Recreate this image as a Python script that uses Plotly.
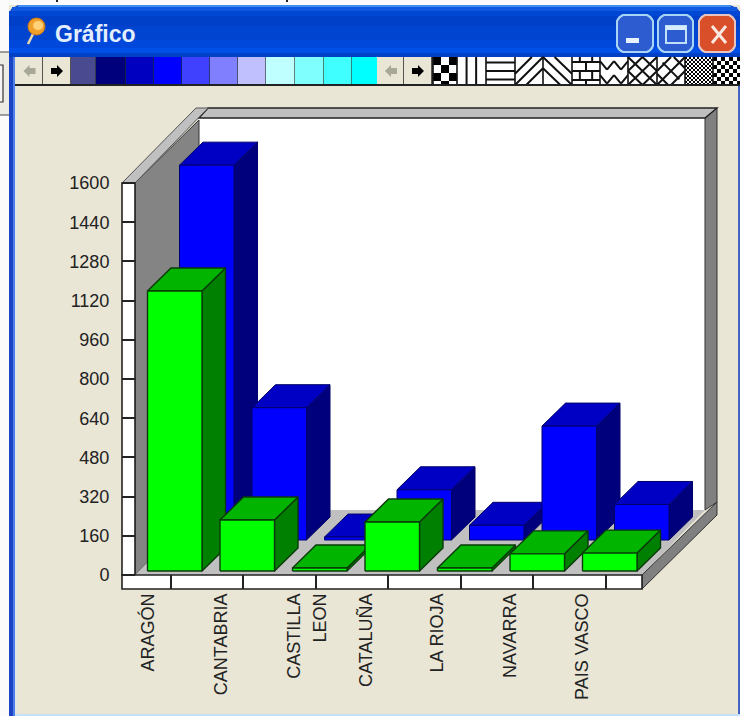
import plotly.graph_objects as go

# Series values per region
categories = ["ARAGÓN", "CANTABRIA", "CASTILLA LEON", "CATALUÑA", "LA RIOJA", "NAVARRA", "PAIS VASCO"]
blue_values = [1530, 540, 12, 205, 60, 465, 145]
green_values = [1143, 208, 12, 200, 12, 70, 73]

# Axis labels
value_ticks = [0, 160, 320, 480, 640, 800, 960, 1120, 1280, 1440, 1600]
tick_labels = ["ARAGÓN", "CANTABRIA", "CASTILLA", "LEON", "CATALUÑA", "LA RIOJA", "NAVARRA", "PAIS VASCO"]
tick_slots = [0.01, 1.01, 2.02, 2.38, 3.02, 4, 5, 6]
divider_slots = [0.324, 1.324, 2.324, 3.324, 4.324, 5.324, 6.324]

# Palette strips of the toolbar
swatch_colors = ["#4a4a90", "#00007c", "#0000c0", "#0000ff", "#4040ff", "#8080ff", "#c0c0ff",
                 "#c0ffff", "#80ffff", "#40ffff", "#00ffff"]
swatch_edges = [71, 96, 126, 154, 182, 210, 238, 266, 295, 324, 352, 377]

W, H = 740, 716
SLOT_PX = 72.5          # pixels per category slot
VALUE_PX = 0.245        # pixels per value unit
SLOT_ORIGIN = 147.5     # pixel column of slot 0
VALUE_ORIGIN = 575      # pixel row of value 0
BAR_W = 54.5 / SLOT_PX
DEPTH_X = 23.5 / SLOT_PX
DEPTH_Y = 23 / VALUE_PX


def px(x):
    return x / W


def py(y):
    return 1 - y / H


def poly(points):
    return "M" + " L".join(f"{px(x):.5f},{py(y):.5f}" for x, y in points) + " Z"


shapes = []


def add_poly(points, fill, line=None, width=1.5):
    shapes.append(dict(type="path", xref="paper", yref="paper", path=poly(points), fillcolor=fill,
                       line=dict(color=line or fill, width=width if line else 0), layer="below"))


def add_rect(x0, y0, x1, y1, fill, line=None, width=1.5):
    add_poly([(x0, y0), (x1, y0), (x1, y1), (x0, y1)], fill, line, width)


def add_segments(segments, color="#111111", width=2):
    path = " ".join(f"M{px(a):.5f},{py(b):.5f} L{px(c):.5f},{py(d):.5f}" for a, b, c, d in segments)
    shapes.append(dict(type="path", xref="paper", yref="paper", path=path,
                       line=dict(color=color, width=width), layer="below"))


def rounded(x0, y0, x1, y1, r, fill, line=None, width=2):
    k = r * 0.3
    path = (f"M{px(x0 + r)},{py(y0)} L{px(x1 - r)},{py(y0)} "
            f"Q{px(x1 - k)},{py(y0 + k)} {px(x1)},{py(y0 + r)} L{px(x1)},{py(y1 - r)} "
            f"Q{px(x1 - k)},{py(y1 - k)} {px(x1 - r)},{py(y1)} L{px(x0 + r)},{py(y1)} "
            f"Q{px(x0 + k)},{py(y1 - k)} {px(x0)},{py(y1 - r)} L{px(x0)},{py(y0 + r)} "
            f"Q{px(x0 + k)},{py(y0 + k)} {px(x0 + r)},{py(y0)} Z")
    shapes.append(dict(type="path", xref="paper", yref="paper", path=path, fillcolor=fill,
                       line=dict(color=line or fill, width=width if line else 0), layer="below"))


# Desktop behind the window
add_rect(0, 0, 9, H, "#fbfbfb")
add_rect(0, 52, 9, 115, "#ecebe4")
add_segments([(0, 52, 9, 52), (0, 115, 9, 115)], "#444444", 1.2)
add_rect(-2, 65, 3, 102, "#f4f4f4", "#333333", 1.2)
add_segments([(57, 0, 57, 2), (287, 0, 287, 2)], "#222222", 2)
add_rect(0, 0, W, 5, "#fbfbfb")
add_segments([(57, 0, 57, 2), (287, 0, 287, 2)], "#222222", 2)

# Window frame and client area
add_poly([(9, 15), (11, 9), (18, 5), (730, 5), (737, 8), (740, 12), (740, H), (9, H)], "#1a44c4")
add_rect(15, 57, 738, 714, "#e9e6d6")
add_rect(15, 57, 17, 714, "#dfe6e6")
add_rect(15, 714, 740, H, "#c6dff8")
add_rect(738, 57, 740, 714, "#4464c4")
add_rect(13, 57, 15, 716, "#4f80e8")

# Title bar shading
title_bands = [(5, 7, "#3f8ef0"), (7, 11, "#0f5ae0"), (11, 16, "#0048d4"), (16, 26, "#0040c8"),
               (26, 40, "#0044d0"), (40, 48, "#0048dc"), (48, 53, "#0050e8"), (53, 57, "#0040c4")]
for y0, y1, c in title_bands:
    inset = 9 if y0 < 7 else 3 if y0 < 11 else 0
    add_rect(9 + inset, y0, 740 - inset, y1, c)

# Caption icon
add_segments([(33, 34, 28, 44)], "#e8d8b0", 2.5)
shapes.append(dict(type="circle", xref="paper", yref="paper", x0=px(28), x1=px(45), y0=py(35), y1=py(18),
                   fillcolor="#f0a028", line=dict(color="#c87818", width=1), layer="below"))
shapes.append(dict(type="circle", xref="paper", yref="paper", x0=px(33), x1=px(43), y0=py(30), y1=py(21),
                   fillcolor="#ffd27a", line=dict(width=0), layer="below"))

# Caption buttons
rounded(617, 15, 653, 52, 6, "#2c5cd0", "#a8d4f6", 2)
add_rect(626, 38, 639, 43, "#e8f2ff")
rounded(658, 15, 693, 52, 6, "#2c5cd0", "#a8d4f6", 2)
add_rect(666, 26, 686, 43, "#2c5cd0", "#c0e0fa", 2)
add_rect(666, 26, 686, 30, "#d8ecff")
rounded(699, 15, 735, 52, 6, "#d94f2a", "#e8c4c0", 2)
add_segments([(712, 26, 726, 43), (726, 26, 712, 43)], "#fbe8e0", 3)

# Toolbar strip
add_rect(15, 57, 740, 85, "#e9e6d6")


def arrow_cell(x0, x1):
    add_rect(x0, 57, x1, 85, "#e9e6d6")
    add_segments([(x1, 57, x1, 85)], "#222222", 1.5)
    return (x0 + x1) / 2


# Left/right arrow pairs of the palette and pattern groups
for left, right, end in [(16, 43, 71), (378, 404, 432)]:
    mid = arrow_cell(left, right)
    add_poly([(mid - 6, 71), (mid, 65), (mid, 68), (mid + 6, 68), (mid + 6, 74), (mid, 74), (mid, 77)], "#a8a898")
    mid = arrow_cell(right, end)
    add_poly([(mid + 6, 71), (mid, 65), (mid, 68), (mid - 6, 68), (mid - 6, 74), (mid, 74), (mid, 77)], "#000000")

for c, x0, x1 in zip(swatch_colors, swatch_edges[:-1], swatch_edges[1:]):
    add_rect(x0, 57, x1, 85, c)
    if x1 != swatch_edges[-1]:
        add_segments([(x1, 57, x1, 85)], "#223322", 1.2)


def checker(x0, x1, size):
    add_rect(x0, 57, x1, 85, "#ffffff")
    path = []
    row = 0
    y = 57
    while y < 85:
        x = x0 + (size if row % 2 else 0)
        while x < x1:
            x2, y2 = min(x + size, x1), min(y + size, 85)
            path.append(poly([(x, y), (x2, y), (x2, y2), (x, y2)]))
            x += 2 * size
        y += size
        row += 1
    shapes.append(dict(type="path", xref="paper", yref="paper", path=" ".join(path), fillcolor="#000000",
                       line=dict(width=0), layer="below"))


def hatch(x0, x1, unit_segments):
    add_rect(x0, 57, x1, 85, "#ffffff")
    w = x1 - x0
    add_segments([(x0 + a * w, 57 + b * 28, x0 + c * w, 57 + d * 28) for a, b, c, d in unit_segments])


checker(433, 457, 8)
hatch(457, 486, [(0.33, 0, 0.33, 1), (0.66, 0, 0.66, 1)])
hatch(486, 515, [(0, 0.2, 1, 0.2), (0, 0.5, 1, 0.5), (0, 0.8, 1, 0.8)])
hatch(515, 543, [(0, 0.6, 0.6, 0), (0, 1, 1, 0), (0.4, 1, 1, 0.4)])
hatch(543, 572, [(0, 0, 1, 1), (0.4, 0, 1, 0.6), (0, 0.4, 0.6, 1)])
hatch(572, 600, [(0, 0.18, 1, 0.18), (0, 0.5, 1, 0.5), (0, 0.82, 1, 0.82), (0.28, 0, 0.28, 0.18),
                 (0.72, 0, 0.72, 0.18), (0.5, 0.18, 0.5, 0.5), (0.28, 0.5, 0.28, 0.82), (0.72, 0.5, 0.72, 0.82),
                 (0.5, 0.82, 0.5, 1)])
hatch(600, 628, [(0, 0.15, 0.25, 0.45), (0.25, 0.45, 0.5, 0.15), (0.5, 0.15, 0.75, 0.45), (0.75, 0.45, 1, 0.15),
                 (0, 0.65, 0.25, 0.95), (0.25, 0.95, 0.5, 0.65), (0.5, 0.65, 0.75, 0.95), (0.75, 0.95, 1, 0.65)])
hatch(628, 657, [(0, 0, 1, 1), (0, 1, 1, 0), (0, 0.5, 0.5, 0), (0.5, 1, 1, 0.5), (0, 0.5, 0.5, 1), (0.5, 0, 1, 0.5)])
hatch(657, 685, [(0, 0.5, 0.5, 0), (0, 1, 1, 0), (0.5, 1, 1, 0.5), (0.2, 0.2, 0.8, 0.8), (0, 0.6, 0.4, 1), (0.6, 0, 1, 0.4)])
checker(685, 713, 2)
checker(713, 740, 4)
add_segments([(x, 57, x, 85) for x in (433, 457, 486, 515, 543, 572, 600, 628, 657, 685, 713)], "#111111", 1.6)
add_segments([(15, 85, 740, 85)], "#222222", 2)

# Chart box: back wall, left wall, floor and rims
add_rect(199, 118, 705, 510, "#ffffff")
add_poly([(135, 183), (199, 120), (199, 510), (135, 575)], "#848484", "#333333", 1)
add_poly([(135, 575), (199, 510), (705, 510), (642, 575)], "#c0c0c0")
add_poly([(705, 118), (717, 108), (717, 502), (705, 510)], "#808080", "#333333", 1)
add_poly([(208, 108), (717, 108), (705, 118), (199, 118)], "#c0c0c0", "#222222", 1.4)
add_poly([(122, 183), (196, 108), (208, 108), (135, 183)], "#c0c0c0", "#555555", 1)
add_poly([(642, 575), (717, 502), (717, 515), (642, 589)], "#808080", "#333333", 1)
add_rect(122, 183, 135, 575, "#ffffff", "#222222", 1.6)
add_rect(122, 575, 642, 589, "#ffffff", "#222222", 1.6)

fig = go.Figure()


def add_face(xs, ys, fill, line, width):
    fig.add_trace(go.Scatter(x=xs + xs[:1], y=ys + ys[:1], mode="lines", fill="toself", fillcolor=fill,
                             line=dict(color=line, width=width), hoverinfo="skip", showlegend=False))


def add_bars(values, shift_x, shift_y, front, top, side, line, width):
    for slot, value in enumerate(values):
        xl = slot + shift_x / SLOT_PX
        xr = xl + BAR_W
        yb = shift_y / VALUE_PX
        yt = value + yb
        add_face([xr, xr + DEPTH_X, xr + DEPTH_X, xr], [yb, yb + DEPTH_Y, yt + DEPTH_Y, yt], side, line, width)
        add_face([xl, xr, xr + DEPTH_X, xl + DEPTH_X], [yt, yt, yt + DEPTH_Y, yt + DEPTH_Y], top, line, width)
        add_face([xl, xr, xr, xl], [yb, yb, yt, yt], front, line, width)


add_bars(blue_values, 32, 35, "#0000ff", "#0000c4", "#00007c", "#00006a", 1)
add_bars(green_values, 0, 4, "#00ff00", "#00b400", "#008000", "#0a3a0a", 1.4)

font = dict(family="Liberation Sans, Arial, sans-serif", size=18, color="#222222")

fig.update_layout(
    width=W, height=H, margin=dict(l=0, r=0, t=0, b=0), paper_bgcolor="#e9e6d6", plot_bgcolor="rgba(0,0,0,0)",
    showlegend=False, hovermode=False, shapes=shapes,
    xaxis=dict(range=[-SLOT_ORIGIN / SLOT_PX, (W - SLOT_ORIGIN) / SLOT_PX], anchor="free", position=1 - 589 / H,
               tickmode="array", tickvals=tick_slots, ticktext=tick_labels, tickangle=-90, ticks="", ticklen=0,
               ticklabelstandoff=0, showgrid=False, zeroline=False, showline=False, tickfont=font, fixedrange=True,
               minor=dict(tickmode="array", tickvals=divider_slots, ticks="inside", ticklen=14, tickwidth=1.6,
                          tickcolor="#222222", showgrid=False)),
    yaxis=dict(range=[(VALUE_ORIGIN - H) / VALUE_PX, VALUE_ORIGIN / VALUE_PX], anchor="free",
               position=135 / W, tickmode="array", tickvals=value_ticks, ticktext=[str(v) for v in value_ticks],
               ticks="outside", ticklen=13, tickwidth=1.6, tickcolor="#222222", ticklabelstandoff=9,
               showgrid=False, zeroline=False, showline=False, tickfont=font, fixedrange=True),
    annotations=[dict(text="<b>Gráfico</b>", xref="paper", yref="paper", x=px(53), y=py(34), xanchor="left",
                      yanchor="middle", showarrow=False,
                      font=dict(family="Liberation Sans, Arial, sans-serif", size=23, color="#e2eefe"))],
)

fig.write_html("out.html", config=dict(displayModeBar=False))
